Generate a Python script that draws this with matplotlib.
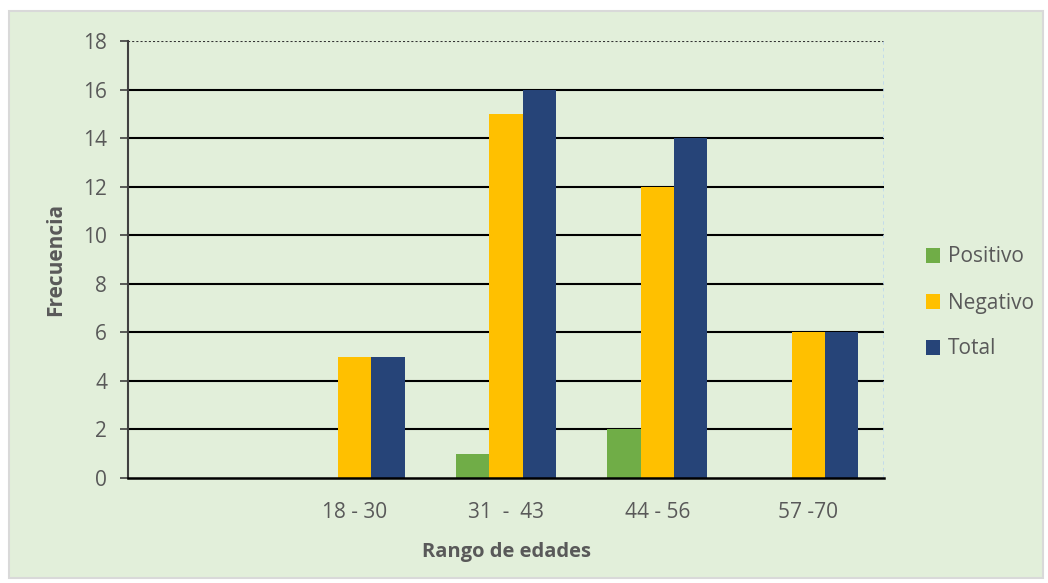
import numpy as np
import matplotlib.pyplot as plt
from matplotlib.patches import Rectangle

# data
categorias = ["", "18 - 30", "31  -  43", "44 - 56", "57 -70"]
positivo = [0, 0, 1, 2, 0]
negativo = [0, 5, 15, 12, 6]
total = [0, 5, 16, 14, 6]
series = ["Positivo", "Negativo", "Total"]
colores = ["#70AD47", "#FFC000", "#264478"]

plt.rcParams["font.family"] = ["Open Sans", "DejaVu Sans"]
gris = "#595959"
fondo = "#E2EFDA"

fig = plt.figure(figsize=(10.48, 5.83), dpi=100)
fig.patch.set_facecolor("white")
fig.patches.append(Rectangle((9 / 1048, 5 / 583), 1034 / 1048, 567 / 583,
                             transform=fig.transFigure, facecolor=fondo,
                             edgecolor="#D9D9D9", linewidth=1.5, zorder=-10))

ax = fig.add_axes([128 / 1048, 1 - 478 / 583, 756 / 1048, 437 / 583])
ax.set_facecolor(fondo)

x = np.arange(len(categorias))
ancho = 0.22
for i, (nombre, vals, c) in enumerate(zip(series, [positivo, negativo, total], colores)):
    ax.bar(x + (i - 1) * ancho, vals, ancho, color=c, label=nombre, zorder=3)

ax.set_xlim(-0.5, 4.5)
ax.set_ylim(0, 18)
ax.set_yticks(range(0, 19, 2))
ax.set_xticks(x)
ax.set_xticklabels(categorias)

for y in range(2, 18, 2):
    ax.axhline(y, color="black", linewidth=1.5, zorder=1)
ax.axhline(18, color="#333333", linewidth=1.5, linestyle=(0, (1, 1)), zorder=1)

for s in ["top", "right"]:
    ax.spines[s].set_visible(False)
ax.axvline(4.5, color="#BDD7EE", linewidth=1.2, linestyle=(0, (2, 2)))
ax.spines["left"].set_color("#404040")
ax.spines["left"].set_linewidth(1.5)
ax.spines["bottom"].set_color("black")
ax.spines["bottom"].set_linewidth(1.8)
ax.spines["bottom"].set_zorder(4)

ax.tick_params(axis="y", length=6, width=1.2, color="#404040", labelsize=15,
               labelcolor=gris, pad=9)
ax.tick_params(axis="x", length=0, labelsize=15, labelcolor=gris, pad=17)

ax.set_xlabel("Rango de edades", fontsize=14.5, fontweight="bold", color=gris, labelpad=14)
ax.set_ylabel("Frecuencia", fontsize=15, fontweight="bold", color=gris, labelpad=12)

leg = fig.legend(loc="center left", bbox_to_anchor=(907 / 1048, 1 - 303 / 583),
                 frameon=False, fontsize=15, labelcolor=gris, handlelength=0.7,
                 handleheight=0.7, handletextpad=0.35, labelspacing=1.2)

fig.savefig("out.png", dpi=100)
